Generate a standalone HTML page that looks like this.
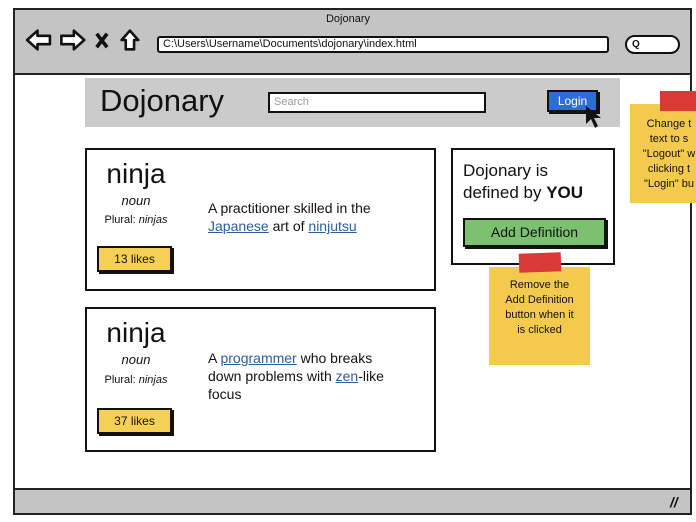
<!DOCTYPE html>
<html><head><meta charset="utf-8"><style>
body{margin:0;width:696px;height:522px;background:#fff;position:relative;overflow:hidden;font-family:"Liberation Sans",sans-serif;color:#111}
.a{position:absolute;box-sizing:border-box}
.lk{color:#2a5e9e;text-decoration:underline}
</style></head><body>
<div class="a" style="left:13px;top:8px;width:679px;height:507px;border:2px solid #222;background:#fff"></div>
<div class="a" style="left:13px;top:8px;width:679px;height:67px;border:2px solid #222;background:#c4c4c4"></div>
<div class="a" style="left:13px;top:488px;width:679px;height:27px;border:2px solid #222;background:#c4c4c4"></div>
<div class="a" style="left:670px;top:494px;font-size:14px;font-weight:bold;font-style:italic">//</div>
<div class="a" style="left:0;width:696px;top:13px;text-align:center;font-size:11px">Dojonary</div>
<svg class="a" style="left:24px;top:26px" width="135" height="28" viewBox="0 0 130 24">
<path d="M3 12 L13 3 L13 8 L25 8 L25 16 L13 16 L13 21 Z" fill="#fff" stroke="#111" stroke-width="2.5" stroke-linejoin="round"/>
<path d="M58 12 L48 3 L48 8 L36 8 L36 16 L48 16 L48 21 Z" fill="#fff" stroke="#111" stroke-width="2.5" stroke-linejoin="round"/>
<path d="M70 6 L80 19 M80 6 L70 19" stroke="#111" stroke-width="3.5"/>
<path d="M94 12 L102 3 L110 12 L106 12 L106 21 L98 21 L98 12 Z" fill="#fff" stroke="#111" stroke-width="2.5" stroke-linejoin="round"/>
</svg>
<div class="a" style="left:157px;top:36px;width:452px;height:17px;border:2px solid #111;background:#fff;border-radius:3px;font-size:11px;padding:0 4px;line-height:13px">C:\Users\Username\Documents\dojonary\index.html</div>
<div class="a" style="left:625px;top:35px;width:55px;height:19px;border:2px solid #111;background:#fff;border-radius:10px;font-size:10px;font-weight:bold;padding-left:5px;line-height:15px">Q</div>
<div class="a" style="left:85px;top:78px;width:535px;height:49px;background:#cbcbcb"></div>
<div class="a" style="left:100px;top:83px;font-size:31px">Dojonary</div>
<div class="a" style="left:268px;top:92px;width:218px;height:21px;border:2px solid #111;background:#fff;font-size:11px;color:#999;padding-left:4px;line-height:17px">Search</div>
<div class="a" style="left:547px;top:90px;width:51px;height:22px;border:2px solid #111;background:#2b6fd6;color:#fff;font-size:12px;text-align:center;line-height:18px;box-shadow:2px 2px 0 #111">Login</div>
<svg class="a" style="left:584px;top:104px" width="20" height="26"><path d="M2 2 L2 20 L7 15 L11 24 L14 22 L10 14 L17 14 Z" fill="#111"/></svg>
<div class="a" style="left:85px;top:148px;width:351px;height:143px;border:2px solid #111"></div>
<div class="a" style="left:92px;top:158px;width:88px;text-align:center;font-size:28px">ninja</div>
<div class="a" style="left:92px;top:193px;width:88px;text-align:center;font-size:13px;font-style:italic">noun</div>
<div class="a" style="left:92px;top:214px;width:88px;text-align:center;font-size:11px">Plural: <i>ninjas</i></div>
<div class="a" style="left:97px;top:246px;width:75px;height:26px;border:2px solid #111;background:#f6cf55;font-size:12px;text-align:center;line-height:22px;box-shadow:2px 2px 0 #111">13 likes</div>
<div class="a" style="left:208px;top:199px;font-size:14px;line-height:18px">A practitioner skilled in the<br><span class="lk">Japanese</span> art of <span class="lk">ninjutsu</span></div>
<div class="a" style="left:85px;top:307px;width:351px;height:145px;border:2px solid #111"></div>
<div class="a" style="left:92px;top:317px;width:88px;text-align:center;font-size:28px">ninja</div>
<div class="a" style="left:92px;top:352px;width:88px;text-align:center;font-size:13px;font-style:italic">noun</div>
<div class="a" style="left:92px;top:374px;width:88px;text-align:center;font-size:11px">Plural: <i>ninjas</i></div>
<div class="a" style="left:97px;top:408px;width:75px;height:26px;border:2px solid #111;background:#f6cf55;font-size:12px;text-align:center;line-height:22px;box-shadow:2px 2px 0 #111">37 likes</div>
<div class="a" style="left:208px;top:349px;font-size:14px;line-height:18px">A <span class="lk">programmer</span> who breaks<br>down problems with <span class="lk">zen</span>-like<br>focus</div>
<div class="a" style="left:451px;top:148px;width:164px;height:117px;border:2px solid #111"></div>
<div class="a" style="left:463px;top:160px;font-size:17px;line-height:22px">Dojonary is<br>defined by <b>YOU</b></div>
<div class="a" style="left:463px;top:218px;width:143px;height:29px;border:2px solid #111;background:#7cc16f;font-size:14px;text-align:center;line-height:25px;box-shadow:2px 2px 0 #111">Add Definition</div>
<div class="a" style="left:489px;top:267px;width:101px;height:98px;background:#f4ca4e;font-size:11px;text-align:center;padding-top:11px;line-height:15px">Remove the<br>Add Definition<br>button when it<br>is clicked</div>
<div class="a" style="left:519px;top:253px;width:42px;height:19px;background:#d93a36;transform:rotate(-2deg)"></div>
<div class="a" style="left:630px;top:104px;width:70px;height:99px;background:#f4ca4e;font-size:11px;text-align:center;padding:13px 0 0 8px;line-height:15px;white-space:nowrap;overflow:hidden">Change t<br>text to s<br>"Logout" w<br>clicking t<br>"Login" bu</div>
<div class="a" style="left:660px;top:91px;width:40px;height:20px;background:#d93a36"></div>
</body></html>
